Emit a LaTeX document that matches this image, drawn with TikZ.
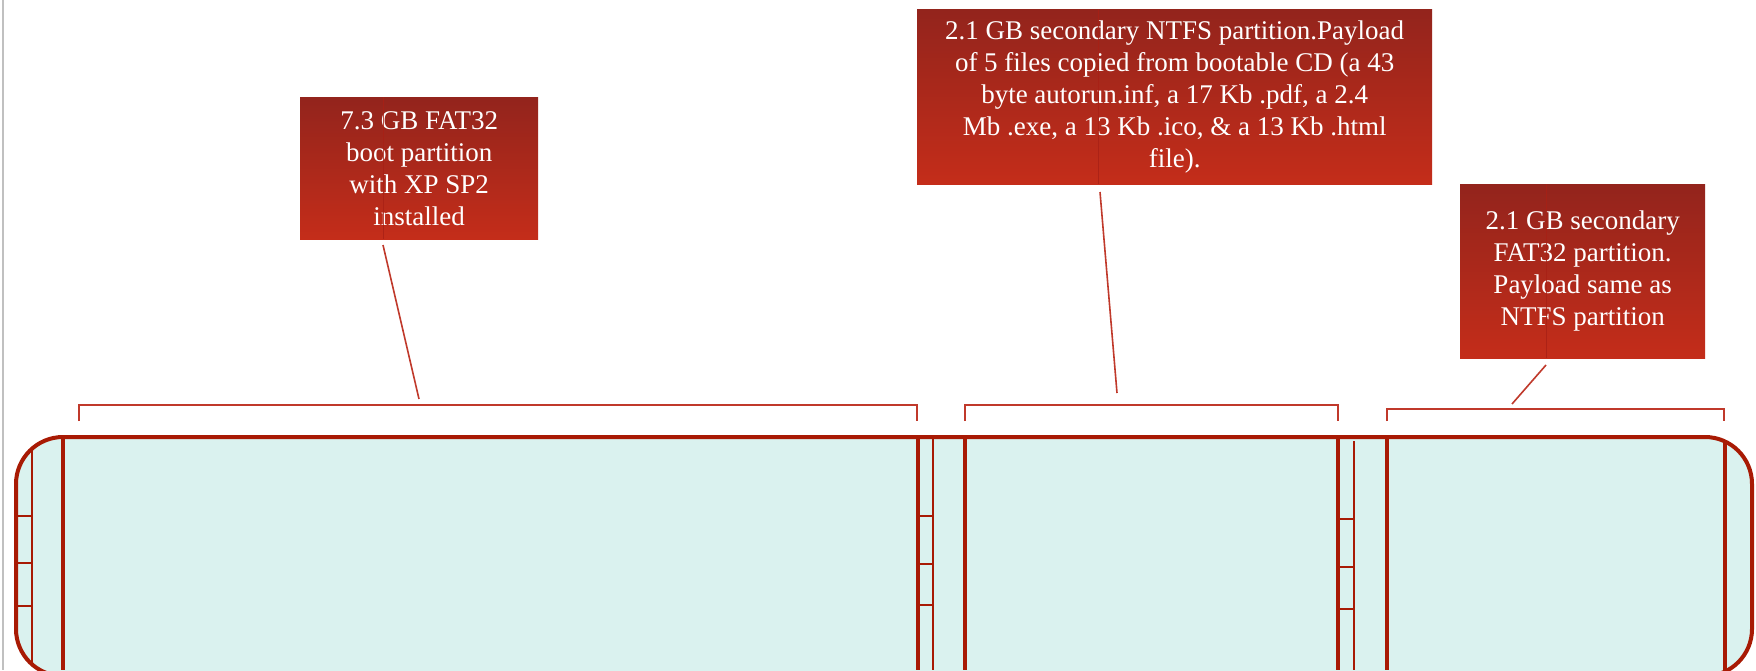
\documentclass[tikz,border=0pt]{standalone}
\usepackage{fontspec}
\setmainfont{Liberation Serif}
\definecolor{calltop}{HTML}{93241C}
\definecolor{callbot}{HTML}{C42D1A}
\definecolor{diskfill}{HTML}{DAF2EF}
\definecolor{diskline}{HTML}{A81A04}
\definecolor{thinred}{HTML}{C0392B}
\definecolor{callinner}{HTML}{A82015}
\definecolor{pagegray}{HTML}{C0C0C0}
\begin{document}
\begin{tikzpicture}[x=1pt,y=-1pt,
  callout/.style={draw=none, top color=calltop, bottom color=callbot, text=white,
    align=center, font=\fontsize{27}{32}\selectfont, inner sep=0pt, anchor=north west},
  bracketline/.style={draw=thinred, line width=1.5pt},
  leader/.style={draw=thinred, line width=1.6pt},
  thick/.style={draw=diskline, line width=4pt},
  thin/.style={draw=diskline, line width=2.2pt},
  rung/.style={draw=diskline, line width=2pt},
  calloutline/.style={draw=callinner, line width=1pt, opacity=0.8}]
\useasboundingbox (0,0) rectangle (1756,670);
\clip (0,0) rectangle (1756,670);
\fill[white] (0,0) rectangle (1756,670);
% page edge
\draw[pagegray, line width=2.7pt] (3,0) -- (3,670);

% brackets
\draw[bracketline] (79,421) -- (79,405) -- (917,405) -- (917,421);
\draw[bracketline] (965,421) -- (965,405) -- (1338,405) -- (1338,421);
\draw[bracketline] (1387,421) -- (1387,409) -- (1724,409) -- (1724,421);

% disk body
\path[fill=diskfill, rounded corners=47pt] (16,437) rectangle (1752,676);
\begin{scope}
  \clip[rounded corners=47pt] (16,437) rectangle (1752,676);
  % left
  \draw[thin] (32,437) -- (32,670);
  \draw[thick] (63,437) -- (63,670);
  \foreach \yy in {516,563,606} \draw[rung] (16,\yy) -- (32,\yy);
  % middle 1
  \draw[thick] (918,437) -- (918,670);
  \draw[thin] (933,437) -- (933,670);
  \draw[thick] (965,437) -- (965,670);
  \foreach \yy in {516,563.5,605} \draw[rung] (918,\yy) -- (933,\yy);
  % middle 2
  \draw[thick] (1338,437) -- (1338,670);
  \draw[thin] (1354,441) -- (1354,670);
  \draw[thick] (1387,437) -- (1387,670);
  \foreach \yy in {519,567,608.5} \draw[rung] (1338,\yy) -- (1354,\yy);
  % right
  \draw[thick] (1725,437) -- (1725,670);
\end{scope}
\draw[diskline, line width=4pt, rounded corners=47pt] (16,437) rectangle (1752,676);

% callouts
\node[callout, minimum width=238pt, minimum height=142pt] (b1) at (300,97)
  {7.3 GB FAT32\\boot partition\\with XP SP2\\installed};
\node[callout, minimum width=515pt, minimum height=175pt] (b2) at (917,9)
  {2.1 GB secondary NTFS partition.Payload\\of 5 files copied from bootable CD (a 43\\byte autorun.inf, a 17 Kb .pdf, a 2.4\\Mb .exe, a 13 Kb .ico, \& a 13 Kb .html\\file).};
\node[callout, minimum width=245pt, minimum height=174pt] (b3) at (1460,184)
  {2.1 GB secondary\\FAT32 partition.\\Payload same as\\NTFS partition};

\draw[calloutline] (b1.north -| 383,0) -- (b1.south -| 383,0);
\draw[calloutline] (b2.north -| 1098,0) -- (b2.south -| 1098,0);
\draw[calloutline] (b3.north -| 1546,0) -- (b3.south -| 1546,0);

% leaders
\coordinate (s1) at (383,245);
\coordinate (e1) at (419,399);
\coordinate (s2) at (1100,192);
\coordinate (e2) at (1117,393);
\coordinate (s3) at (1546,365);
\coordinate (e3) at (1512,404);
\draw[leader] (s1) -- (e1);
\draw[leader] (s2) -- (e2);
\draw[leader] (s3) -- (e3);
\end{tikzpicture}
\end{document}
